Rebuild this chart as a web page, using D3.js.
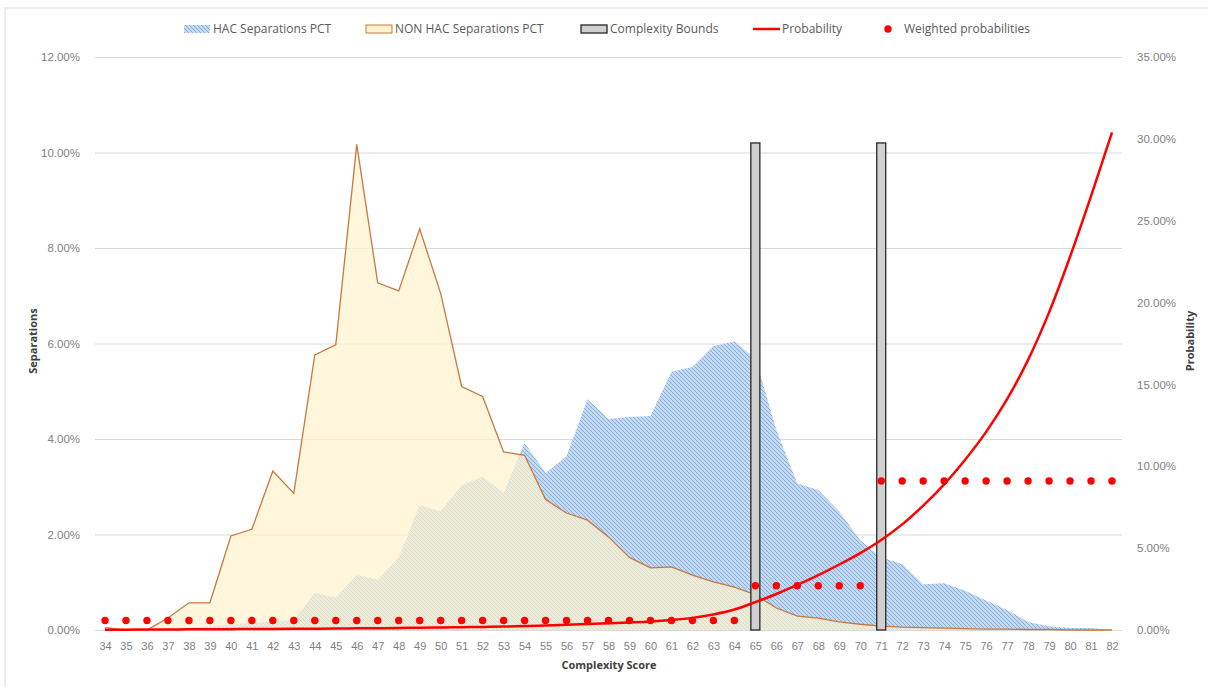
<!DOCTYPE html>
<html lang="en">
<head>
    <meta charset="UTF-8">
    <title>Complexity Score chart</title>
    <script src="https://d3js.org/d3.v7.min.js"></script>
    <style>
        body { margin: 0; background: #fff; font-family: "Open Sans", sans-serif; }
        .tick text { fill: #7f7f7f; }
        .grid line { stroke: #d9d9d9; }
        .axis-title { font-weight: bold; fill: #404040; font-size: 11px; }
        .legend text { fill: #595959; font-size: 12px; }
    </style>
</head>
<body>
    <svg width="1208" height="687"></svg>
    <script>
        // complexity scores on the x axis
        const scores = [34, 35, 36, 37, 38, 39, 40, 41, 42, 43, 44, 45, 46, 47, 48, 49, 50, 51, 52, 53, 54, 55, 56, 57, 58,
                        59, 60, 61, 62, 63, 64, 65, 66, 67, 68, 69, 70, 71, 72, 73, 74, 75, 76, 77, 78, 79, 80, 81, 82];

        // left axis series (percent)
        const hacPct = [0, 0, 0, 0.03, 0.05, 0.08, 0.12, 0.15, 0.18, 0.2, 0.78, 0.68, 1.15, 1.05, 1.52, 2.62, 2.48, 3.03, 3.21, 2.87,
                        3.92, 3.29, 3.64, 4.83, 4.42, 4.46, 4.48, 5.41, 5.51, 5.95, 6.04, 5.69, 4.19, 3.07, 2.93, 2.48, 1.88, 1.52,
                        1.38, 0.96, 0.98, 0.82, 0.62, 0.42, 0.17, 0.08, 0.04, 0.04, 0];
        const nonHacPct = [0.05, 0, 0, 0.25, 0.57, 0.57, 1.97, 2.11, 3.33, 2.86, 5.76, 5.97, 10.17, 7.27, 7.10, 8.40, 7.05, 5.10,
                           4.89, 3.73, 3.66, 2.73, 2.45, 2.30, 1.95, 1.52, 1.30, 1.32, 1.15, 1.01, 0.90, 0.74, 0.46, 0.29, 0.25,
                           0.17, 0.12, 0.08, 0.06, 0.05, 0.04, 0.03, 0.02, 0.02, 0.01, 0.01, 0, 0, 0];
        const boundScores = [65, 71];
        const boundPct = [10.2, 10.2];

        // right axis series (percent)
        const probability = [0.02, 0.02, 0.03, 0.03, 0.04, 0.04, 0.05, 0.06, 0.06, 0.07, 0.08, 0.09, 0.1, 0.11, 0.12, 0.14, 0.15,
                             0.17, 0.19, 0.21, 0.24, 0.28, 0.32, 0.36, 0.41, 0.46, 0.52, 0.61, 0.74, 0.95, 1.25, 1.7, 2.2, 2.75,
                             3.35, 4.0, 4.7, 5.5, 6.45, 7.6, 8.9, 10.4, 12.1, 14.1, 16.5, 19.4, 22.8, 26.5, 30.4];
        const weighted = [0.58, 0.58, 0.58, 0.58, 0.58, 0.58, 0.58, 0.58, 0.58, 0.58, 0.58, 0.58, 0.58, 0.58, 0.58, 0.58, 0.58,
                          0.58, 0.58, 0.58, 0.58, 0.58, 0.58, 0.58, 0.58, 0.58, 0.58, 0.58, 0.58, 0.58, 0.58, 2.7, 2.7, 2.7,
                          2.7, 2.7, 2.7, 9.1, 9.1, 9.1, 9.1, 9.1, 9.1, 9.1, 9.1, 9.1, 9.1, 9.1, 9.1];

        const leftTicks = [0, 0.02, 0.04, 0.06, 0.08, 0.10, 0.12];
        const rightTicks = [0, 0.05, 0.10, 0.15, 0.20, 0.25, 0.30, 0.35];

        const svg = d3.select("svg");
        const plotL = 95, plotR = 1122, plotT = 57, plotB = 630;

        // chart border (only top/left visible)
        svg.append("rect")
            .attr("x", 5).attr("y", 8).attr("width", 1220).attr("height", 700)
            .attr("fill", "none").attr("stroke", "#d9d9d9");

        const x = d3.scalePoint().domain(scores).range([105, 1112]);
        const yL = d3.scaleLinear().domain([0, 0.12]).range([plotB, plotT]);
        const yR = d3.scaleLinear().domain([0, 0.35]).range([plotB, plotT]);

        // hatch pattern for HAC
        const defs = svg.append("defs");
        const pat = defs.append("pattern")
            .attr("id", "hatch").attr("patternUnits", "userSpaceOnUse")
            .attr("width", 4).attr("height", 4);
        pat.append("rect").attr("width", 4).attr("height", 4).attr("fill", "#c5daf0");
        pat.append("path").attr("d", "M-1,-1 L5,5 M-1,3 L1,5 M3,-1 L5,1")
            .attr("stroke", "#74a5db").attr("stroke-width", 0.85);

        // gridlines
        svg.append("g").attr("class", "grid")
            .attr("transform", `translate(${plotL},0)`)
            .call(d3.axisLeft(yL).tickValues(leftTicks).tickSize(-(plotR - plotL)).tickFormat(""))
            .call(g => g.select(".domain").remove());

        const hacData = scores.map((s, i) => ({ s, v: hacPct[i] / 100 }));
        const nonData = scores.map((s, i) => ({ s, v: nonHacPct[i] / 100 }));

        const area = d3.area().x(d => x(d.s)).y0(yL(0)).y1(d => yL(d.v));

        svg.append("path").datum(hacData)
            .attr("d", area).attr("fill", "url(#hatch)");

        svg.append("path").datum(nonData)
            .attr("d", area).attr("fill", "#fff2cc").attr("fill-opacity", 0.7);
        svg.append("path").datum(nonData)
            .attr("d", d3.line().x(d => x(d.s)).y(d => yL(d.v)))
            .attr("fill", "none").attr("stroke", "#c8783f").attr("stroke-width", 1.3);

        // complexity bound columns
        const barW = 9;
        svg.selectAll(".bound").data(boundScores).join("rect")
            .attr("class", "bound")
            .attr("x", d => x(d) - barW / 2)
            .attr("y", (d, i) => yL(boundPct[i] / 100))
            .attr("width", barW)
            .attr("height", (d, i) => yL(0) - yL(boundPct[i] / 100))
            .attr("fill", "#d0d0d0").attr("stroke", "#262626").attr("stroke-width", 1.3);

        // probability curve
        const probData = scores.map((s, i) => ({ s, v: probability[i] / 100 }));
        svg.append("path").datum(probData)
            .attr("d", d3.line().x(d => x(d.s)).y(d => yR(d.v)).curve(d3.curveCatmullRom))
            .attr("fill", "none").attr("stroke", "#ff0000").attr("stroke-width", 2.5);

        // weighted probability dots
        svg.selectAll(".wdot").data(scores).join("circle")
            .attr("class", "wdot")
            .attr("cx", d => x(d))
            .attr("cy", (d, i) => yR(weighted[i] / 100))
            .attr("r", 3.7).attr("fill", "#ff0000");

        // axes
        const fmt = d3.format(".2%");
        svg.append("g")
            .attr("transform", `translate(${plotL - 12},0)`)
            .call(d3.axisLeft(yL).tickValues(leftTicks).tickSize(0).tickFormat(fmt))
            .call(g => g.select(".domain").remove())
            .selectAll("text").style("font-size", "11.5px");

        svg.append("g")
            .attr("transform", `translate(${plotR + 12},0)`)
            .call(d3.axisRight(yR).tickValues(rightTicks).tickSize(0).tickFormat(fmt))
            .call(g => g.select(".domain").remove())
            .selectAll("text").style("font-size", "11.5px");

        svg.append("g")
            .attr("transform", `translate(0,${plotB + 9})`)
            .call(d3.axisBottom(x).tickSize(0))
            .call(g => g.select(".domain").remove())
            .selectAll("text").style("font-size", "11px");

        // axis titles
        svg.append("text").attr("class", "axis-title")
            .attr("x", 609).attr("y", 669).attr("text-anchor", "middle")
            .text("Complexity Score");
        svg.append("text").attr("class", "axis-title")
            .attr("transform", "translate(37,341) rotate(-90)").attr("text-anchor", "middle")
            .text("Separations");
        svg.append("text").attr("class", "axis-title")
            .attr("transform", "translate(1194,341) rotate(-90)").attr("text-anchor", "middle")
            .text("Probability");

        // legend
        const lg = svg.append("g").attr("class", "legend");
        const ly = 29;
        lg.append("rect").attr("x", 184).attr("y", ly - 4).attr("width", 26).attr("height", 8).attr("fill", "url(#hatch)");
        lg.append("text").attr("x", 213).attr("y", ly).attr("dy", "0.35em").text("HAC Separations PCT");
        lg.append("rect").attr("x", 366).attr("y", ly - 4).attr("width", 26).attr("height", 8)
            .attr("fill", "#fff2cc").attr("stroke", "#c8783f");
        lg.append("text").attr("x", 395).attr("y", ly).attr("dy", "0.35em").text("NON HAC Separations PCT");
        lg.append("rect").attr("x", 581).attr("y", ly - 4).attr("width", 26).attr("height", 8)
            .attr("fill", "#d0d0d0").attr("stroke", "#262626").attr("stroke-width", 1.3);
        lg.append("text").attr("x", 610).attr("y", ly).attr("dy", "0.35em").text("Complexity Bounds");
        lg.append("line").attr("x1", 753).attr("x2", 780).attr("y1", ly).attr("y2", ly)
            .attr("stroke", "#ff0000").attr("stroke-width", 2.5);
        lg.append("text").attr("x", 782).attr("y", ly).attr("dy", "0.35em").text("Probability");
        lg.append("circle").attr("cx", 888).attr("cy", ly).attr("r", 3.7).attr("fill", "#ff0000");
        lg.append("text").attr("x", 904).attr("y", ly).attr("dy", "0.35em").text("Weighted probabilities");
    </script>
</body>
</html>
